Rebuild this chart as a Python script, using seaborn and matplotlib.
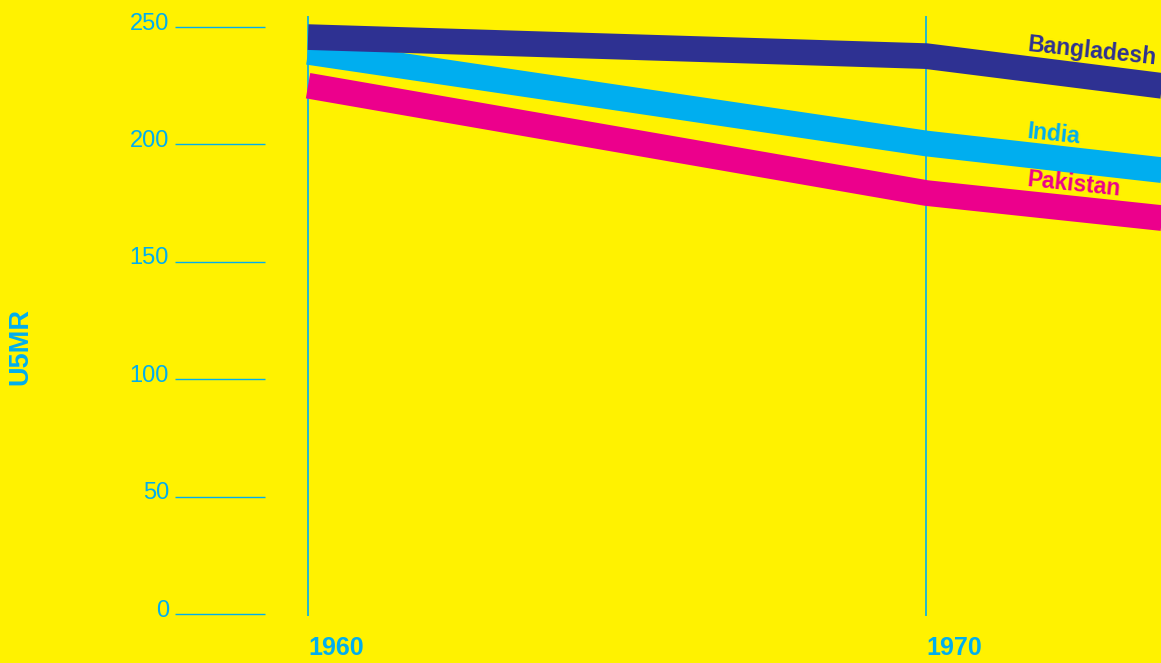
import numpy as np
import pandas as pd
import matplotlib.pyplot as plt
import seaborn as sns

# data (under-five mortality rate)
years = [1960, 1970, 1975]
bangladesh = [245.7, 237.6, 221.0]
india = [239.4, 200.4, 185.5]
pakistan = [225.0, 179.3, 165.3]
countries = ['Pakistan', 'India', 'Bangladesh']  # draw order, Bangladesh on top
y_ticks = [0, 50, 100, 150, 200, 250]
x_ticks = [1960, 1970]

YELLOW = '#FFF200'
CYAN = '#00AEEF'
NAVY = '#2E3192'
MAGENTA = '#EC008C'
palette = {'Bangladesh': NAVY, 'India': CYAN, 'Pakistan': MAGENTA}

df = pd.DataFrame({
    'year': years * 3,
    'u5mr': pakistan + india + bangladesh,
    'country': ['Pakistan'] * 3 + ['India'] * 3 + ['Bangladesh'] * 3,
})

sns.set_style('white')
plt.rcParams['font.family'] = ['Liberation Sans', 'DejaVu Sans']

fig = plt.figure(figsize=(11.61, 6.63), dpi=100, facecolor=YELLOW)
ax = fig.add_axes([0, 0, 1, 1])
ax.set_facecolor(YELLOW)

# vertical year lines
ax.vlines(x_ticks, -1, 254.5, color=CYAN, linewidth=1.2, zorder=1)

sns.lineplot(data=df, x='year', y='u5mr', hue='country', hue_order=countries,
             palette=palette, linewidth=18.5, legend=False, ax=ax,
             solid_capstyle='butt', solid_joinstyle='round', zorder=2)

ax.set_xlim(1955.016, 1973.80)
ax.set_ylim(-20.87, 261.5)
ax.set_axis_off()

# y "ticks": short lines with labels
ytrans = ax.get_yaxis_transform()
ax.hlines(y_ticks, 0.1507, 0.2283, transform=ytrans, color=CYAN, linewidth=1.0)
for t in y_ticks:
    ax.annotate(str(t), xy=(0.1456, t), xycoords=ytrans, xytext=(0, 2.5),
                textcoords='offset points', ha='right', va='center',
                fontsize=17, color=CYAN)

# x labels
xtrans = ax.get_xaxis_transform()
for yr in x_ticks:
    ax.text(yr, 0.0226, str(yr), transform=xtrans, ha='left', va='center',
            fontsize=18, fontweight='bold', color=CYAN)

fig.text(0.0172, 0.478, 'U5MR', rotation=90, ha='center', va='center',
         fontsize=19.5, fontweight='bold', color=CYAN)

# series labels above the lines
label_x = 1971.63
series = {'Bangladesh': bangladesh, 'India': india, 'Pakistan': pakistan}
for name, vals in series.items():
    yv = np.interp(label_x, years, vals)
    ax.annotate(name, xy=(label_x, yv), xytext=(0, 12.5), textcoords='offset points',
                ha='left', va='baseline', rotation=-6, rotation_mode='anchor',
                fontsize=16.5, fontweight='bold', color=palette[name])

fig.savefig('out.png', dpi=100, facecolor=YELLOW)
